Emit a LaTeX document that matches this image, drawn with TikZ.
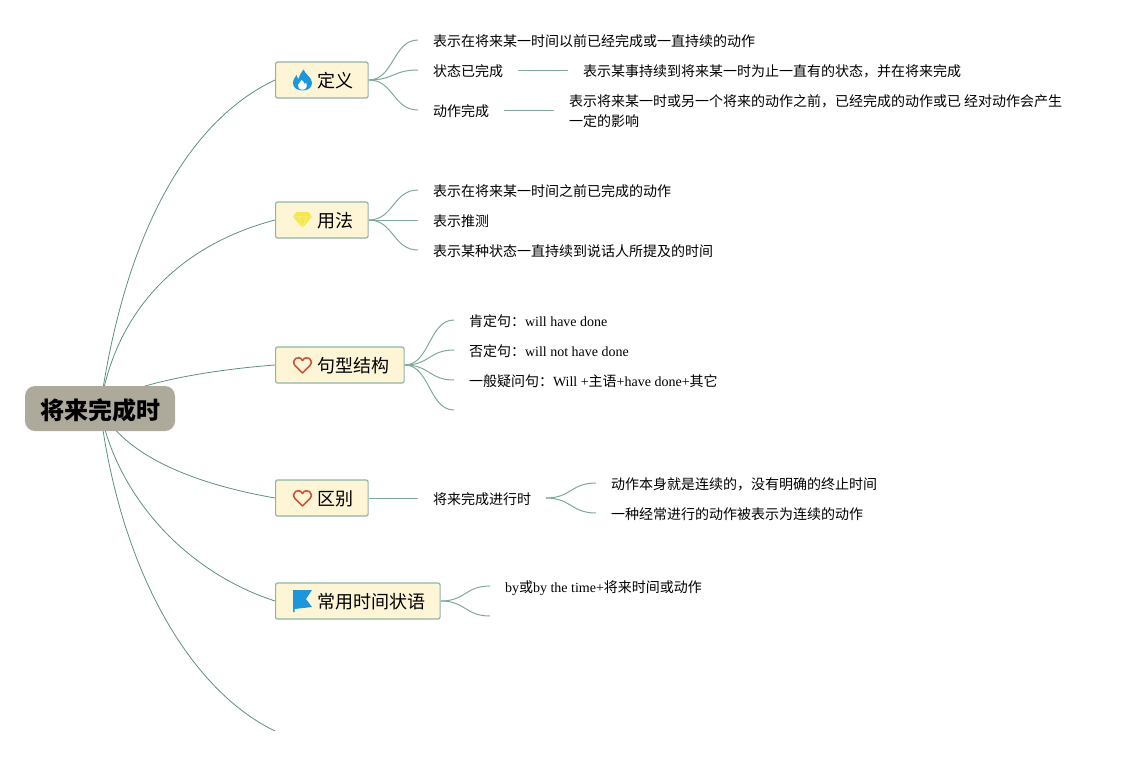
\documentclass[tikz,border=0pt]{standalone}
\usepackage{fontspec}
\setmainfont{Liberation Serif}
\newfontfamily\cjk{Noto Sans CJK SC}
\usetikzlibrary{positioning,backgrounds}
\newcommand{\zh}[1]{{\cjk #1}}
\newcommand{\topiclabel}[1]{\hspace*{42pt}#1\hspace*{14.5pt}}
\definecolor{rootfill}{HTML}{AEAA9B}
\definecolor{topicfill}{HTML}{FDF5D6}
\definecolor{topicedge}{HTML}{8FB5A3}
\definecolor{rootline}{HTML}{5F8F7E}
\definecolor{leafline}{HTML}{7FA99A}
\definecolor{iconblue}{HTML}{1E96DC}
\definecolor{icongold}{HTML}{F3E74B}
\definecolor{heartred}{HTML}{D0513C}
\tikzset{
    rootbox/.style={fill=rootfill, rounded corners=10pt, minimum width=150pt, minimum height=45pt, inner sep=0pt, text height=22.6pt, text depth=1.4pt, font=\fontsize{24}{28}\selectfont\cjk\bfseries},
    topicbox/.style={draw=topicedge, line width=1.2pt, fill=topicfill, rounded corners=2pt, anchor=west, minimum height=36pt, inner sep=0pt, text height=16.8pt, text depth=1.2pt, font=\fontsize{18}{22}\selectfont\cjk},
    leaftext/.style={anchor=west, inner sep=0pt, outer xsep=15pt, text height=13pt, text depth=1pt, font=\fontsize{14}{20}\selectfont},
    rootlink/.style={rootline, line width=0.8pt},
    branchlink/.style={leafline, line width=1pt, to path={.. controls +(25,0) and +(-25,0) .. (\tikztotarget)}},
    flameicon/.pic={
        \fill[iconblue] (1,-10.5) .. controls (3,-5) and (9.5,-3) .. (9.5,3) .. controls (9.5,8) and (5,10.5) .. (0,10.5) .. controls (-5,10.5) and (-9.5,8) .. (-9.5,3) .. controls (-9.5,-1) and (-7,-3) .. (-6,-5) .. controls (-5.5,-3) and (-5,-2) .. (-4,-1) .. controls (-3,-5) and (-1,-8) .. (1,-10.5) -- cycle;
        \fill[white] (0,9.8) .. controls (-3.5,9.8) and (-5,7) .. (-4.5,5) .. controls (-4,3.5) and (-2,2.5) .. (-1,0) .. controls (1,1.5) and (1.5,2.5) .. (2,4) .. controls (3,3) and (3,2.5) .. (3.5,2.5) .. controls (5.5,6) and (3.5,9.8) .. (0,9.8) -- cycle;
    },
    gemicon/.pic={
        \fill[icongold] (-6,-8) -- (6,-8) -- (9.5,-3.5) -- (0,8) -- (-9.5,-3.5) -- cycle;
        \draw[icongold!45!white, line width=0.4pt] (-9.5,-3.2) -- (9.5,-3.2) (-4,-3.2) -- (0,8) -- (4,-3.2);
    },
    hearticon/.pic={
        \draw[heartred, line width=1.6pt, line join=round] (0,8) -- (-7.5,0.5) .. controls (-12,-5) and (-4,-11) .. (0,-4.5) .. controls (4,-11) and (12,-5) .. (7.5,0.5) -- cycle;
    },
    flagicon/.pic={
        \fill[iconblue] (-9.5,-11) -- (9.5,-11) -- (3.5,-2) -- (9.5,6) -- (-8,8) -- (-8,11) -- (-9.5,11) -- cycle;
    },
}
\begin{document}
\begin{tikzpicture}[x=1pt, y=-1pt]
    \useasboundingbox (0,0) rectangle (1129,756);

    % Root and topics
    \node[rootbox] (root) at (100,408.5) {将来完成时};
    \node[topicbox] (dingyi) at (275,80) {\topiclabel{定义}};
    \node[topicbox] (yongfa) at (275,220) {\topiclabel{用法}};
    \node[topicbox] (jiegou) at (275,365) {\topiclabel{句型结构}};
    \node[topicbox] (qubie) at (275,498) {\topiclabel{区别}};
    \node[topicbox] (zhuangyu) at (275,601) {\topiclabel{常用时间状语}};
    \coordinate (blanktopic) at (275,731);

    % Icons
    \pic at (302.5,80) {flameicon};
    \pic at (302.5,220) {gemicon};
    \pic at (302.5,365) {hearticon};
    \pic at (302.5,498) {hearticon};
    \pic at (302.5,601) {flagicon};

    % Leaves of the first topic
    \node[leaftext] (dingyia) at (418,40) {\zh{表示在将来某一时间以前已经完成或一直持续的动作}};
    \node[leaftext] (dingyib) at (418,70) {\zh{状态已完成}};
    \node[leaftext] (dingyic) at (418,110) {\zh{动作完成}};
    \node[leaftext] (dingyibb) at (568,70) {\zh{表示某事持续到将来某一时为止一直有的状态，并在将来完成}};
    \node[anchor=west, inner sep=0pt, outer xsep=15pt, align=left, font=\fontsize{14}{20}\selectfont] (dingyicc) at (554,111) {\zh{表示将来某一时或另一个将来的动作之前，已经完成的动作或已 经对动作会产生}\\\zh{一定的影响}};

    % Leaves of the second topic
    \node[leaftext] (yongfaa) at (418,190) {\zh{表示在将来某一时间之前已完成的动作}};
    \node[leaftext] (yongfab) at (418,220) {\zh{表示推测}};
    \node[leaftext] (yongfac) at (418,250) {\zh{表示某种状态一直持续到说话人所提及的时间}};

    % Leaves of the third topic
    \node[leaftext] (jiegoua) at (454,320) {\zh{肯定句：}will have done};
    \node[leaftext] (jiegoub) at (454,350) {\zh{否定句：}will not have done};
    \node[leaftext] (jiegouc) at (454,380) {\zh{一般疑问句：}Will +\zh{主语}+have done+\zh{其它}};
    \coordinate (jiegoud) at (454,410);

    % Leaves of the fourth topic
    \node[leaftext] (qubiea) at (418,498) {\zh{将来完成进行时}};
    \node[leaftext] (qubieaa) at (596,483) {\zh{动作本身就是连续的，没有明确的终止时间}};
    \node[leaftext] (qubieab) at (596,513) {\zh{一种经常进行的动作被表示为连续的动作}};

    % Leaves of the fifth topic
    \node[leaftext] (zhuangyua) at (490,586) {by\zh{或}by the time+\zh{将来时间或动作}};
    \coordinate (zhuangyub) at (490,616);

    \begin{scope}[on background layer]
        % Root links
        \draw[rootlink] (root.center) .. controls (125,230) and (190,120) .. (dingyi.west);
        \draw[rootlink] (root.center) .. controls (115,310) and (180,245) .. (yongfa.west);
        \draw[rootlink] (root.center) .. controls (115,388) and (195,371) .. (jiegou.west);
        \draw[rootlink] (root.center) .. controls (125,455) and (190,483) .. (qubie.west);
        \draw[rootlink] (root.center) .. controls (115,490) and (180,570) .. (zhuangyu.west);
        \draw[rootlink] (root.center) .. controls (120,570) and (190,690) .. (blanktopic);

        % Branch links
        \foreach \leaf in {dingyia,dingyib,dingyic}
            \draw[branchlink] (dingyi.east) to (\leaf.west);
        \foreach \leaf in {yongfaa,yongfab,yongfac}
            \draw[branchlink] (yongfa.east) to (\leaf.west);
        \foreach \leaf in {jiegoua,jiegoub,jiegouc}
            \draw[branchlink] (jiegou.east) to (\leaf.west);
        \draw[branchlink] (jiegou.east) to (jiegoud);
        \foreach \leaf in {qubieaa,qubieab}
            \draw[branchlink] (qubiea.east) to (\leaf.west);
        \draw[branchlink] (zhuangyu.east) to (zhuangyua.west);
        \draw[branchlink] (zhuangyu.east) to (zhuangyub);
        \draw[branchlink] (qubie.east) to (qubiea.west);
        \draw[branchlink] (dingyib.east) to (dingyibb.west);
        \draw[branchlink] (dingyic.east) to (dingyicc.west |- dingyic.east);
    \end{scope}
\end{tikzpicture}
\end{document}
